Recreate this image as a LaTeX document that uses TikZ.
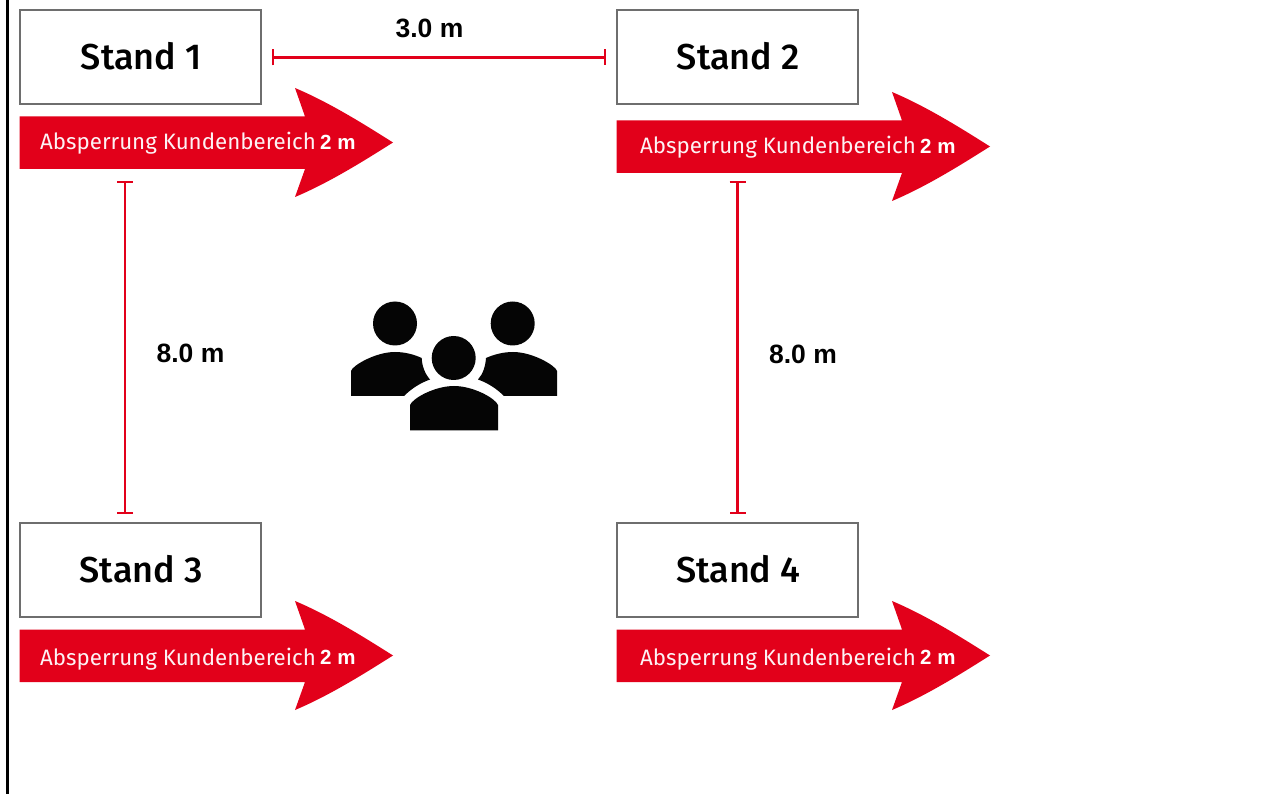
\documentclass[tikz,border=0pt]{standalone}
\usepackage{fontspec}
\setmainfont{Liberation Sans}
\newfontfamily\standfont{Fira Sans}[UprightFont=* Medium]
\newfontfamily\barrierfont{Fira Sans}
\usetikzlibrary{arrows.meta}
\definecolor{mred}{HTML}{E2001A}
\definecolor{frameg}{HTML}{6E6E6E}
\tikzset{
  x=1pt,y=-1pt,
  standbox/.style={draw=frameg,line width=2pt,fill=white,minimum width=241pt,minimum height=94pt,inner sep=0pt,
    font=\standfont\fontsize{36}{36}\selectfont,text=black,text depth=0pt},
  standtext/.style={font=\standfont\fontsize{36}{36}\selectfont,text=black,inner sep=0pt},
  barrier/.style={font=\barrierfont\fontsize{22.3}{22.3}\selectfont,text=white!95!mred,anchor=base west,inner sep=0pt},
  twom/.style={font=\bfseries\fontsize{20.5}{20.5}\selectfont,text=white,anchor=base west,inner sep=0pt},
  dim/.style={draw=mred,line width=2.2pt,{Bar[width=16pt,length=0.6pt,line width=2.4pt]}-{Bar[width=16pt,length=0.6pt,line width=2.4pt]}},
  dimlabel/.style={font=\bfseries\fontsize{26.5}{26.5}\selectfont,text=black,inner sep=0pt},
  arrowfill/.style={fill=mred},
  person/.style={fill=black!98}
}
\newcommand{\redarrow}[2]{%
  \fill[arrowfill,shift={(#1,#2)}] (0,0) -- (285.5,0) -- (275.5,-28.5)
    .. controls (310,-14) and (345,8) .. (373.5,26)
    .. controls (345,44) and (310,66) .. (275.5,80.5)
    -- (285.5,52.5) -- (0,52.5) -- cycle;
}
\begin{document}
\begin{tikzpicture}
\useasboundingbox (0,0) rectangle (1278,794);
\fill[white] (0,0) rectangle (1278,794);
\draw[black,line width=3pt] (7,0) -- (7,794);

\node[standbox,label={[standtext,xshift=1pt,yshift=1pt]center:Stand 1}] (s1) at (140.2,57.5) {};
\node[standbox,label={[standtext,xshift=1pt,yshift=1pt]center:Stand 2}] (s2) at (737.2,57.5) {};
\node[standbox,label={[standtext,xshift=1pt,yshift=1pt]center:Stand 3}] (s3) at (140.2,570.2) {};
\node[standbox,label={[standtext,xshift=1pt,yshift=1pt]center:Stand 4}] (s4) at (737.2,570.2) {};

\redarrow{19.5}{116.5}
\redarrow{616.5}{120.5}
\redarrow{19.5}{629.5}
\redarrow{616.5}{629.5}

\node[barrier] (b1) at (40,150) {Absperrung Kundenbereich};
\node[twom] (m1) at (320,150) {2 m};
\node[barrier] (b2) at (640,154) {Absperrung Kundenbereich};
\node[twom] (m2) at (920,154) {2 m};
\node[barrier] (b3) at (40,665) {Absperrung Kundenbereich};
\node[twom] (m3) at (320,664.5) {2 m};
\node[barrier] (b4) at (640,665) {Absperrung Kundenbereich};
\node[twom] (m4) at (920,664.5) {2 m};

\coordinate (h1) at (272,57.5);
\coordinate (h2) at (606,57.5);
\coordinate (v1a) at (125,181);
\coordinate (v1b) at (125,514);
\coordinate (v2a) at (737.5,181);
\coordinate (v2b) at (737.5,514);
\draw[dim] (h1) -- (h2);
\draw[dim] (v1a) -- (v1b);
\draw[dim] (v2a) -- (v2b);
\node[dimlabel] (d1) at (429.5,28) {3.0 m};
\node[dimlabel] (d2) at (190.5,353) {8.0 m};
\node[dimlabel] (d3) at (803,354) {8.0 m};

% people
\fill[person] (395,323.5) circle (22);
\fill[person] (512.7,323.5) circle (22);
\fill[person] (453.7,358) circle (22);
\fill[person] (351,396) -- (351,371) .. controls (352,366) and (375,352) .. (395,352)
  .. controls (405,352) and (414,354.5) .. (421.7,358)
  .. controls (422,366) and (425,374) .. (430,379.5)
  .. controls (420,383) and (411,389) .. (404,396) -- cycle;
\fill[person] (557,396) -- (557,371) .. controls (556,366) and (533,352) .. (513,352)
  .. controls (503,352) and (494,354.5) .. (486,358)
  .. controls (485.5,366) and (483,374) .. (478,379.5)
  .. controls (488,383) and (497,389) .. (504,396) -- cycle;
\fill[person] (410,430.5) -- (410,405) .. controls (413,398) and (435,386) .. (454,386)
  .. controls (473,386) and (495,398) .. (498,405) -- (498,430.5) -- cycle;
\end{tikzpicture}
\end{document}
